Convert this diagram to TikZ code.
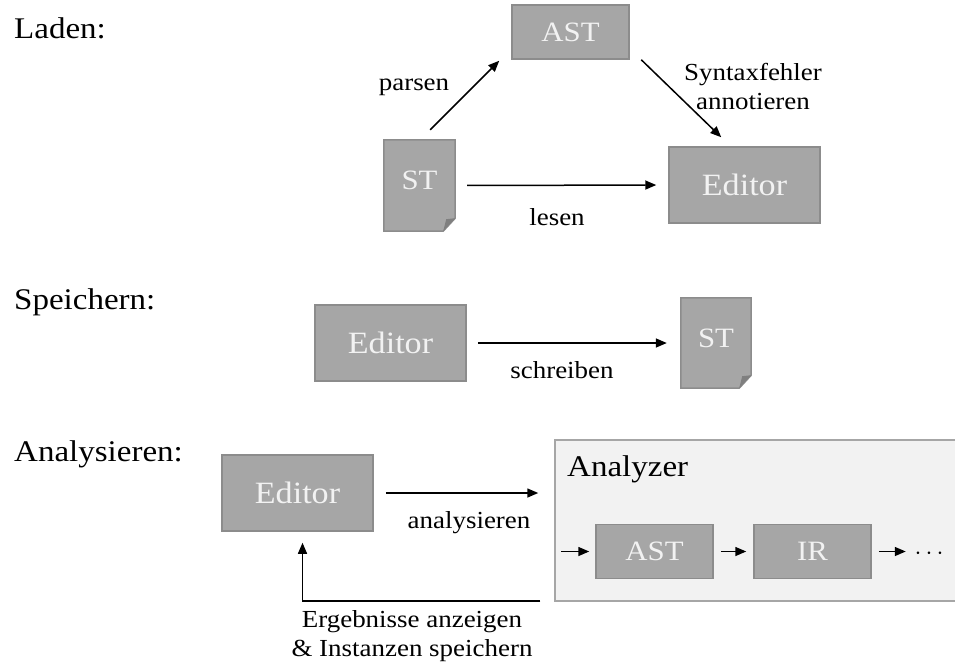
\documentclass[tikz,border=0pt]{standalone}
\usepackage{fontspec}
\setmainfont[FakeStretch=1.1]{Liberation Serif}
\usetikzlibrary{arrows.meta,calc}
\definecolor{boxfill}{HTML}{A6A6A6}
\definecolor{boxline}{HTML}{8C8C8C}
\definecolor{foldc}{HTML}{7F7F7F}
\definecolor{panelfill}{HTML}{F2F2F2}
\definecolor{boxtext}{HTML}{F2F2F2}
\tikzset{
  x=1pt,y=-1pt,
  box/.style={draw=boxline,line width=1.5pt,fill=boxfill,text=boxtext,inner sep=0pt,anchor=center},
  smallbox/.style={box,minimum width=117pt,minimum height=54pt,font=\fontsize{28}{32}\selectfont},
  edbox/.style={box,minimum width=151pt,minimum height=76pt,font=\fontsize{31}{36}\selectfont},
  docbox/.style={inner sep=0pt,text=boxtext,minimum width=71pt,minimum height=91pt,font=\fontsize{28}{32}\selectfont},
  arr/.style={-{Triangle[length=11pt,width=9pt]},line width=1.5pt,black},
  lbl/.style={font=\fontsize{24.5}{29.5}\selectfont,align=center,inner sep=0pt,text=black},
  head/.style={font=\fontsize{30}{34}\selectfont,anchor=base west,inner sep=0pt,text=black},
}
\newcommand{\docshape}[1]{%
  \fill[boxfill,draw=boxline,line width=1.5pt]
    (#1.north west) -- (#1.north east) -- ($(#1.south east)+(0,-13)$) -- ($(#1.south east)+(-12,0)$) -- (#1.south west) -- cycle;
  \fill[foldc] ($(#1.south east)+(0,-13)$) -- ($(#1.south east)+(-9,-12)$) -- ($(#1.south east)+(-12,0)$) -- cycle;
}
\begin{document}
\begin{tikzpicture}
\useasboundingbox (0,0) rectangle (955,662);
% headings
\node[head] (h1) at (14,38) {Laden:};
\node[head] (h2) at (14,309) {Speichern:};
\node[head] (h3) at (14,461) {Analysieren:};
% Laden
\node[smallbox] (ast1) at (570.5,32) {AST};
\node[docbox] (st1) at (419.5,185.5) {};
\docshape{st1}
\node[docbox,minimum height=0pt] (st1t) at (419.5,180) {ST};
\node[edbox] (ed1) at (744.5,185) {Editor};
\draw[arr] ($(st1.north east)+(-25,-10)$) -- ($(ast1.south west)+(-12,1)$);
\draw[arr,shorten <=12pt,shorten >=12pt] (st1.east) -- (ed1.west);
\draw[arr] ($(ast1.south east)+(11.5,0)$) -- ($(ed1.north west)+(53,-9)$);
\node[lbl] (l1) at (414,87) {parsen};
\node[lbl] (l2) at (557,217) {lesen};
\node[lbl] (l3) at (753,86.5) {Syntaxfehler\\annotieren};
% Speichern
\node[edbox] (ed2) at (390.5,343) {Editor};
\node[docbox,minimum height=90pt,minimum width=70pt] (st2) at (716,343) {};
\docshape{st2}
\node[docbox,minimum height=0pt] (st2t) at (716,338) {ST};
\draw[arr,shorten <=11pt,shorten >=14pt] (ed2.east) -- (st2.west);
\node[lbl] (l4) at (562,370) {schreiben};
% Analysieren
\node[edbox] (ed3) at (297.5,493) {Editor};
\node[draw=boxfill,line width=1.5pt,fill=panelfill,inner sep=0pt,minimum width=402pt,minimum height=161pt] (panel) at (756,520.5) {};
\node[font=\fontsize{30}{34}\selectfont,anchor=base west,inner sep=0pt] (pt) at (567,476) {Analyzer};
\node[smallbox] (ast2) at (654.5,551.5) {AST};
\node[smallbox] (ir) at (812.5,551.5) {IR};
\node[font=\fontsize{24.5}{29}\selectfont,inner sep=0pt] (dots) at (929,554) {$\cdots$};
\coordinate (instart) at ($(ast2.west)+(-34,0)$);
\draw[arr,shorten >=6pt] (instart) -- (ast2.west);
\draw[arr,shorten <=7pt,shorten >=7pt] (ast2.east) -- (ir.west);
\draw[arr,shorten <=7pt] (ir.east) -- ($(ir.east)+(34,0)$);
\draw[arr,shorten <=12pt,shorten >=16pt] (ed3.east) -- (ed3.east -| panel.west);
\draw[arr] ($(panel.south west)+(-14,-1)$) -| ($(ed3.south)+(5,11)$);
\node[lbl] (l5) at (469,523) {analysieren};
\node[lbl] (l6) at (412,636) {Ergebnisse anzeigen\\\& Instanzen speichern};
\end{tikzpicture}
\end{document}
